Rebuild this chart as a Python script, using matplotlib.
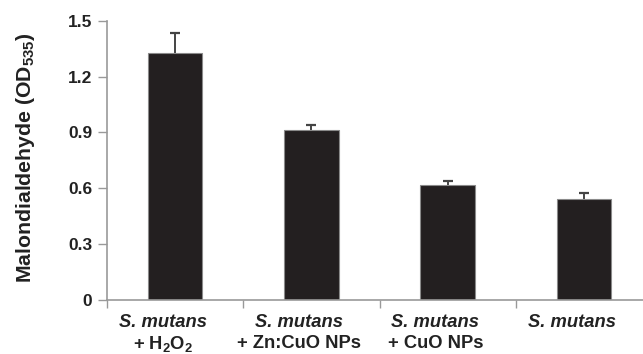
import matplotlib
matplotlib.use("Agg")
import matplotlib.pyplot as plt
import numpy as np

plt.rcParams['font.family'] = ['Liberation Sans', 'DejaVu Sans']
plt.rcParams['mathtext.default'] = 'regular'

species = ["S. mutans", "S. mutans", "S. mutans", "S. mutans"]
treatments = ["+ H$_2$O$_2$", "+ Zn:CuO NPs", "+ CuO NPs", ""]
values = [1.328, 0.914, 0.618, 0.541]
errors = [0.107, 0.027, 0.018, 0.033]
yticks = [0, 0.3, 0.6, 0.9, 1.2, 1.5]
ytick_labels = ["0", "0.3", "0.6", "0.9", "1.2", "1.5"]

fig = plt.figure(figsize=(6.43, 3.54), dpi=100)
ax = fig.add_axes([107/643, 1 - 299.5/354, 545/643, 278.5/354])

x = np.arange(len(values))
ax.errorbar(x, values, yerr=errors, fmt='none',
            ecolor="#444444", elinewidth=1.4, capsize=3.8, capthick=1.6, zorder=1)
ax.bar(x, values, width=0.4, color="#231f20", edgecolor="#8a8a8a", linewidth=0.8, zorder=2)

ax.set_ylim(0, 1.5)
ax.set_xlim(-0.5, len(values) - 0.5)
ax.set_yticks(yticks)
ax.set_yticklabels(ytick_labels, fontsize=12.5, fontweight='bold', color="#222222")
ax.set_xticks(np.arange(len(values) + 1) - 0.5)
ax.set_xticklabels([])
ax.tick_params(axis='y', direction='out', length=6.5, width=1, color="#999999", pad=4)
ax.tick_params(axis='x', direction='out', length=6, width=1, color="#999999")

for s in ['top', 'right']:
    ax.spines[s].set_visible(False)
for s in ['left', 'bottom']:
    ax.spines[s].set_color("#999999")
    ax.spines[s].set_linewidth(1.2)

trans = ax.get_xaxis_transform()
for i in range(len(values)):
    ax.text(x[i] - 0.09, -0.082, species[i], transform=trans, ha='center', va='center',
            fontsize=13.2, fontweight='bold', fontstyle='italic', color="#222222")
    if treatments[i]:
        ax.text(x[i] - 0.09, -0.158, treatments[i], transform=trans, ha='center', va='center',
                fontsize=13.2, fontweight='bold', color="#222222")

ax.set_ylabel("Malondialdehyde (OD$_{535}$)", fontsize=15.3, fontweight='bold', color="#222222")
ax.yaxis.set_label_coords(-0.128, 0.51)

fig.savefig("out.png", dpi=100)
